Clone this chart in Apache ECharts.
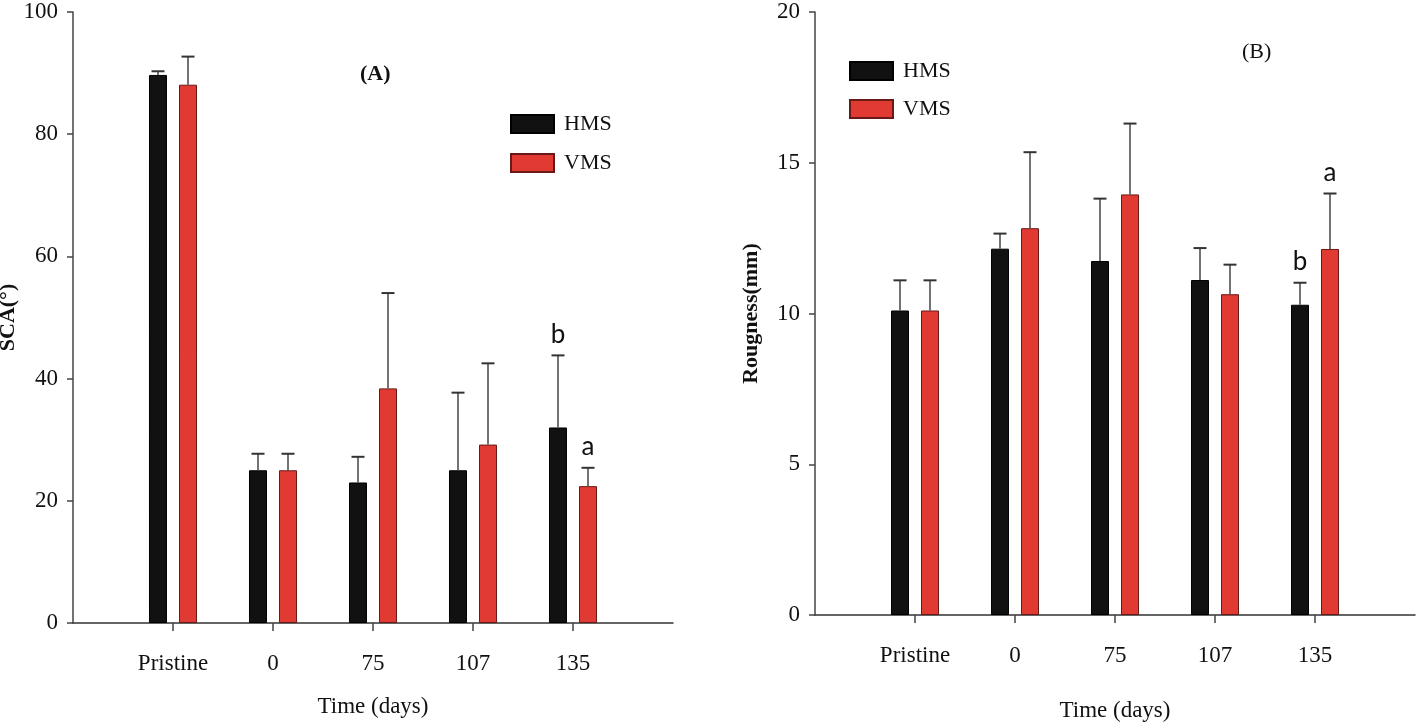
<!DOCTYPE html>
<html>
<head>
<meta charset="utf-8">
<script src="https://cdn.jsdelivr.net/npm/echarts@6/dist/echarts.min.js"></script>
<style>
html,body{margin:0;padding:0;background:#fff;}
#chart{width:1418px;height:725px;}
</style>
</head>
<body>
<div id="chart"></div>
<script>
// ---- data ----
const categories = ['', 'Pristine', '0', '75', '107', '135', ''];
const seriesNames = ['HMS', 'VMS'];

// Panel A: SCA (°)
const scaHMS = [null, 89.7, 25.0, 23.0, 25.0, 32.0, null];
const scaHMSErr = [null, 0.6, 2.7, 4.2, 12.7, 11.8, null];
const scaVMS = [null, 88.1, 25.0, 38.4, 29.2, 22.4, null];
const scaVMSErr = [null, 4.6, 2.7, 15.6, 13.3, 3.0, null];
const scaHMSLetters = ['', '', '', '', '', 'b', ''];
const scaVMSLetters = ['', '', '', '', '', 'a', ''];

// Panel B: Roughness (mm)
const rouHMS = [null, 10.1, 12.15, 11.74, 11.11, 10.29, null];
const rouHMSErr = [null, 1.0, 0.5, 2.07, 1.06, 0.73, null];
const rouVMS = [null, 10.1, 12.83, 13.95, 10.64, 12.14, null];
const rouVMSErr = [null, 1.0, 2.52, 2.35, 0.98, 1.84, null];
const rouHMSLetters = ['', '', '', '', '', 'b', ''];
const rouVMSLetters = ['', '', '', '', '', 'a', ''];

const yTicksA = {min: 0, max: 100, interval: 20};
const yTicksB = {min: 0, max: 20, interval: 5};

// ---- style ----
const SERIF = 'Liberation Serif';
const BAR_W = 18;
const GAP_PX = 12;
const OFFSET = (BAR_W + GAP_PX) / 2;
const COLORS = {HMS: '#111111', VMS: '#e03a33'};
const BORDER = {HMS: '#000000', VMS: '#6a1a16'};

function errSeries(gridIdx, means, errs, letters, dx) {
  const data = means.map((m, i) => m == null ? [i, NaN, NaN] : [i, m, errs[i]]);
  return {
    type: 'custom',
    xAxisIndex: gridIdx, yAxisIndex: gridIdx,
    data: data,
    z: 5,
    silent: true,
    renderItem: function (params, api) {
      const i = api.value(0), m = api.value(1), e = api.value(2);
      if (isNaN(m)) return null;
      const p0 = api.coord([i, m]);
      const p1 = api.coord([i, m + e]);
      const x = p0[0] + dx;
      const children = [
        {type: 'line', shape: {x1: x, y1: p0[1], x2: x, y2: p1[1]}, style: {stroke: '#444', lineWidth: 1.5}},
        {type: 'line', shape: {x1: x - 6.5, y1: p1[1], x2: x + 6.5, y2: p1[1]}, style: {stroke: '#333', lineWidth: 2}}
      ];
      const t = letters[params.dataIndex];
      if (t) {
        children.push({type: 'text', style: {text: t, x: x, y: p1[1] - 21, align: 'center', verticalAlign: 'middle',
          font: '26px Lato', fill: '#111'}});
      }
      return {type: 'group', children: children};
    }
  };
}

function barSeries(gridIdx, name, vals) {
  return {
    type: 'bar', name: name,
    xAxisIndex: gridIdx, yAxisIndex: gridIdx,
    data: vals,
    barWidth: BAR_W,
    barGap: (GAP_PX / BAR_W * 100).toFixed(1) + '%',
    itemStyle: {color: COLORS[name], borderColor: BORDER[name], borderWidth: 1},
    emphasis: {disabled: true}
  };
}

function xAxis(gridIdx, nameGap) {
  return {
    type: 'category', gridIndex: gridIdx, data: categories, boundaryGap: false,
    name: 'Time (days)', nameLocation: 'middle', nameGap: nameGap,
    nameTextStyle: {fontFamily: SERIF, fontSize: 23, color: '#111'},
    axisLine: {show: true, lineStyle: {color: '#333', width: 1.5}},
    axisTick: {show: true, length: 8, lineStyle: {color: '#444', width: 1.5},
      interval: function (idx, val) { return val !== ''; }},
    axisLabel: {show: true, margin: 29, fontFamily: SERIF, fontSize: 23, color: '#111',
      interval: function (idx, val) { return val !== ''; }},
    splitLine: {show: false}
  };
}

function yAxis(gridIdx, name, ticks, nameGap) {
  return {
    type: 'value', gridIndex: gridIdx, min: ticks.min, max: ticks.max, interval: ticks.interval,
    name: name, nameLocation: 'middle', nameGap: nameGap, nameRotate: 90,
    nameTextStyle: {fontFamily: SERIF, fontSize: 22, fontWeight: 'bold', color: '#111'},
    axisLine: {show: true, lineStyle: {color: '#444', width: 1.5}},
    axisTick: {show: true, inside: false, length: 6, lineStyle: {color: '#444', width: 1.5}},
    axisLabel: {show: true, margin: 15, fontFamily: SERIF, fontSize: 23, color: '#111'},
    splitLine: {show: false}
  };
}

const chart = echarts.init(document.getElementById('chart'), null, {renderer: 'canvas'});
chart.setOption({
  backgroundColor: '#ffffff',
  animation: false,
  title: [
    {text: '(A)', left: 355, top: 58, textStyle: {fontFamily: SERIF, fontSize: 22, fontWeight: 'bold', color: '#111'}},
    {text: '(B)', left: 1237, top: 36, textStyle: {fontFamily: SERIF, fontSize: 22, fontWeight: 'normal', color: '#111'}}
  ],
  legend: [
    {data: seriesNames, orient: 'vertical', left: 505, top: 108, itemWidth: 43, itemHeight: 18, itemGap: 17,
      icon: 'rect', selectedMode: false,
      textStyle: {fontFamily: SERIF, fontSize: 22, color: '#111', padding: [0, 0, 0, 5]}},
    {data: seriesNames, orient: 'vertical', left: 844, top: 55, itemWidth: 43, itemHeight: 18, itemGap: 16,
      icon: 'rect', selectedMode: false,
      textStyle: {fontFamily: SERIF, fontSize: 22, color: '#111', padding: [0, 0, 0, 5]}}
  ],
  grid: [
    {left: 73, top: 12, right: 745, bottom: 102, containLabel: false, outerBoundsMode: 'none'},
    {left: 815, top: 12, right: 3, bottom: 110, containLabel: false, outerBoundsMode: 'none'}
  ],
  xAxis: [xAxis(0, 72), xAxis(1, 84)],
  yAxis: [yAxis(0, 'SCA(°)', yTicksA, 42), yAxis(1, 'Rougness(mm)', yTicksB, 53)],
  series: [
    barSeries(0, 'HMS', scaHMS),
    barSeries(0, 'VMS', scaVMS),
    errSeries(0, scaHMS, scaHMSErr, scaHMSLetters, -OFFSET),
    errSeries(0, scaVMS, scaVMSErr, scaVMSLetters, OFFSET),
    barSeries(1, 'HMS', rouHMS),
    barSeries(1, 'VMS', rouVMS),
    errSeries(1, rouHMS, rouHMSErr, rouHMSLetters, -OFFSET),
    errSeries(1, rouVMS, rouVMSErr, rouVMSLetters, OFFSET)
  ]
});
</script>
</body>
</html>
